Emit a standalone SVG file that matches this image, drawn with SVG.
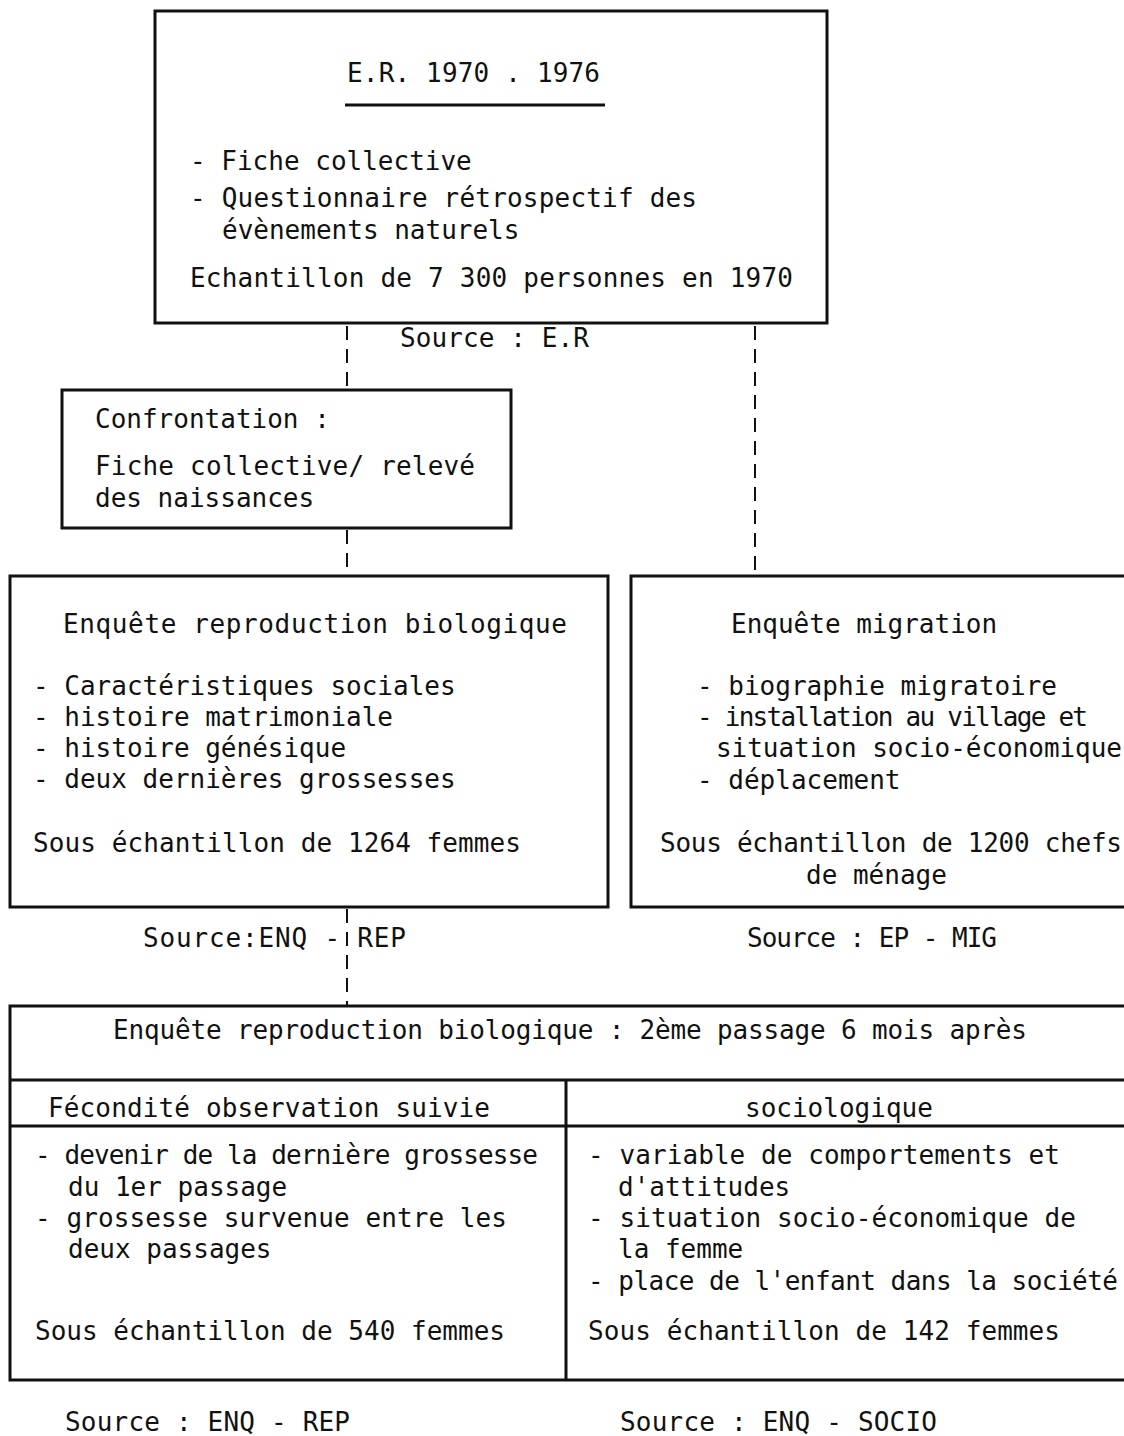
<svg xmlns="http://www.w3.org/2000/svg" width="1124" height="1436" viewBox="0 0 1124 1436">
<style>
text{font-family:"DejaVu Sans Mono","Liberation Mono",monospace;font-size:26px;fill:#111;}
.box{fill:none;stroke:#111;stroke-width:3;}
.ln{stroke:#111;stroke-width:3;fill:none;}
.dash{stroke:#111;stroke-width:2;fill:none;stroke-dasharray:14 9;}
</style>
<rect width="1124" height="1436" fill="#fff"/>
<g id="connectors">
<line class="dash" x1="347" y1="326" x2="347" y2="389"/>
<line class="dash" x1="755" y1="326" x2="755" y2="575"/>
<line class="dash" x1="347" y1="530" x2="347" y2="575"/>
<line class="dash" x1="347" y1="909" x2="347" y2="1005"/>
</g>
<g id="er">
<rect class="box" x="155" y="11" width="672" height="312"/>
<text x="347" y="82" textLength="253">E.R. 1970 . 1976</text>
<line class="ln" x1="345" y1="105" x2="605" y2="105"/>
<text x="190" y="170">- Fiche collective</text>
<text x="190" y="207" textLength="507">- Questionnaire rétrospectif des</text>
<text x="222" y="239">évènements naturels</text>
<text x="190" y="287" textLength="603">Echantillon de 7 300 personnes en 1970</text>
</g>
<g id="src-er"><text x="400" y="347" textLength="189">Source : E.R</text></g>
<g id="confrontation">
<rect class="box" x="62" y="390" width="449" height="138"/>
<text x="95" y="428">Confrontation :</text>
<text x="95" y="475" textLength="380">Fiche collective/ relevé</text>
<text x="95" y="507">des naissances</text>
</g>
<g id="repro">
<rect class="box" x="10" y="576" width="598" height="331"/>
<text x="63" y="633" textLength="504">Enquête  reproduction biologique</text>
<text x="33" y="695">- Caractéristiques sociales</text>
<text x="33" y="726">- histoire matrimoniale</text>
<text x="33" y="757">- histoire génésique</text>
<text x="33" y="788">- deux dernières grossesses</text>
<text x="33" y="852" textLength="488">Sous échantillon de 1264 femmes</text>
</g>
<g id="migration">
<rect class="box" x="631" y="576" width="510" height="331"/>
<text x="731" y="633">Enquête  migration</text>
<text x="697" y="695">- biographie migratoire</text>
<text x="697" y="726" textLength="391">- installation au village et</text>
<text x="716" y="757" textLength="406">situation socio-économique</text>
<text x="697" y="789">- déplacement</text>
<text x="660" y="852" textLength="462">Sous échantillon de 1200 chefs</text>
<text x="806" y="884">de ménage</text>
</g>
<g id="src-rep1"><text x="143" y="947" textLength="263">Source:ENQ - REP</text></g>
<g id="src-mig"><text x="747" y="947" textLength="250">Source : EP - MIG</text></g>
<g id="passage2">
<rect class="box" x="10" y="1006" width="1131" height="374"/>
<text x="113" y="1039" textLength="914">Enquête reproduction biologique : 2ème passage 6 mois après</text>
<line class="ln" x1="10" y1="1080" x2="1124" y2="1080"/>
<line class="ln" x1="10" y1="1126" x2="1124" y2="1126"/>
<line class="ln" x1="566" y1="1080" x2="566" y2="1380"/>
</g>
<g id="fecondite">
<text x="48" y="1117" textLength="442">Fécondité observation suivie</text>
<text x="35" y="1164" textLength="503">- devenir de la dernière grossesse</text>
<text x="68" y="1196">du 1er passage</text>
<text x="35" y="1227" textLength="472">- grossesse survenue entre les</text>
<text x="68" y="1258">deux passages</text>
<text x="35" y="1340" textLength="470">Sous échantillon de 540 femmes</text>
</g>
<g id="socio">
<text x="745" y="1117">sociologique</text>
<text x="588" y="1164" textLength="472">- variable de comportements et</text>
<text x="618" y="1196">d'attitudes</text>
<text x="588" y="1227" textLength="488">- situation socio-économique de</text>
<text x="618" y="1258">la femme</text>
<text x="588" y="1290" textLength="530">- place de l'enfant dans la société</text>
<text x="588" y="1340" textLength="472">Sous échantillon de 142 femmes</text>
</g>
<g id="src-rep2"><text x="65" y="1431" textLength="285">Source : ENQ - REP</text></g>
<g id="src-socio"><text x="620" y="1431" textLength="317">Source : ENQ - SOCIO</text></g>
</svg>
